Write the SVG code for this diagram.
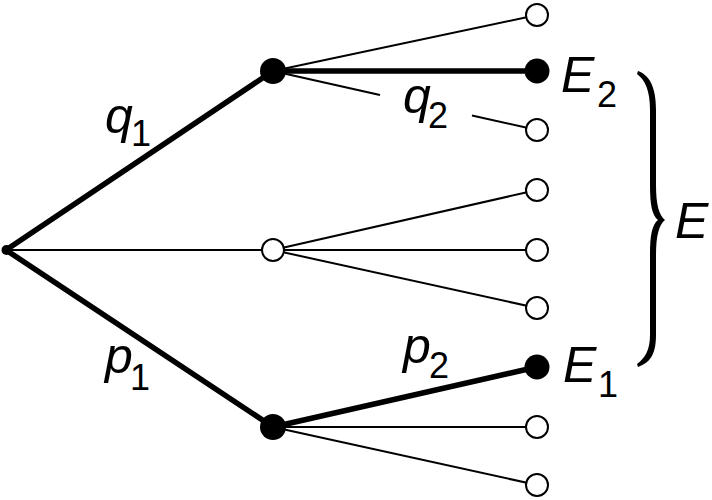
<svg xmlns="http://www.w3.org/2000/svg" width="712" height="500" viewBox="0 0 712 500">
<style>
.thin{stroke:#000;stroke-width:2;fill:none}
.thick{stroke:#000;stroke-width:5.5;fill:none;stroke-linecap:round}
.open{fill:#fff;stroke:#000;stroke-width:2}
.full{fill:#000;stroke:none}
.lbl{font-family:"Liberation Sans",Arial,sans-serif;font-style:italic;font-size:50px;fill:#000}
.sub{font-size:36px;font-style:normal}
</style>
<rect width="712" height="500" fill="#fff"/>
<g id="connectors">
<line class="thick" x1="6" y1="250" x2="273" y2="71"/>
<line class="thin" x1="6" y1="250" x2="273" y2="250"/>
<line class="thick" x1="6" y1="250" x2="273" y2="427"/>
<line class="thin" x1="273" y1="71" x2="537" y2="15"/>
<line class="thick" x1="273" y1="71" x2="537" y2="71"/>
<line class="thin" x1="273" y1="71" x2="380" y2="95"/>
<line class="thin" x1="472" y1="115.5" x2="537" y2="130"/>
<line class="thin" x1="273" y1="250" x2="537" y2="190"/>
<line class="thin" x1="273" y1="250" x2="537" y2="250"/>
<line class="thin" x1="273" y1="250" x2="537" y2="308"/>
<line class="thick" x1="273" y1="427" x2="537" y2="367"/>
<line class="thin" x1="273" y1="427" x2="537" y2="427"/>
<line class="thin" x1="273" y1="427" x2="537" y2="485"/>
</g>
<g id="root"><circle class="full" cx="6.5" cy="250" r="5"/></g>
<g id="n-top"><circle class="full" cx="273" cy="71" r="13"/></g>
<g id="n-mid"><circle class="open" cx="273" cy="250" r="11"/></g>
<g id="n-bot"><circle class="full" cx="273" cy="427" r="13"/></g>
<g id="leaf1"><circle class="open" cx="537" cy="15" r="11"/></g>
<g id="leaf-E2"><circle class="full" cx="537" cy="71" r="12.5"/></g>
<g id="leaf3"><circle class="open" cx="537" cy="130" r="11"/></g>
<g id="leaf4"><circle class="open" cx="537" cy="190" r="11"/></g>
<g id="leaf5"><circle class="open" cx="537" cy="250" r="11"/></g>
<g id="leaf6"><circle class="open" cx="537" cy="308" r="11"/></g>
<g id="leaf-E1"><circle class="full" cx="537" cy="367" r="12.5"/></g>
<g id="leaf8"><circle class="open" cx="537" cy="427" r="11"/></g>
<g id="leaf9"><circle class="open" cx="537" cy="485" r="11"/></g>
<g id="brace">
<path fill="#000" d="M638,71 C649,75 656,86 656,110 L656,185 C656,205 659,215 665,220 C659,225 656,235 656,255 L656,335 C656,356 649,363 638,367 L637,364 C645,358 650,350 650,335 L650,255 C650,235 652,225 658,220 C652,215 650,205 650,185 L650,110 C650,90 645,80 637,74 Z"/>
</g>
<g id="labels">
<text class="lbl" x="105" y="133">q<tspan class="sub" x="131" y="146">1</tspan></text>
<text class="lbl" x="403" y="113">q<tspan class="sub" x="428" y="128">2</tspan></text>
<text class="lbl" x="105" y="373">p<tspan class="sub" x="130" y="390">1</tspan></text>
<text class="lbl" x="403" y="363">p<tspan class="sub" x="429" y="378">2</tspan></text>
<text class="lbl" x="561" y="92">E<tspan class="sub" x="597" y="107">2</tspan></text>
<text class="lbl" x="563" y="382">E<tspan class="sub" x="598" y="397">1</tspan></text>
<text class="lbl" x="675" y="238">E</text>
</g>
</svg>
